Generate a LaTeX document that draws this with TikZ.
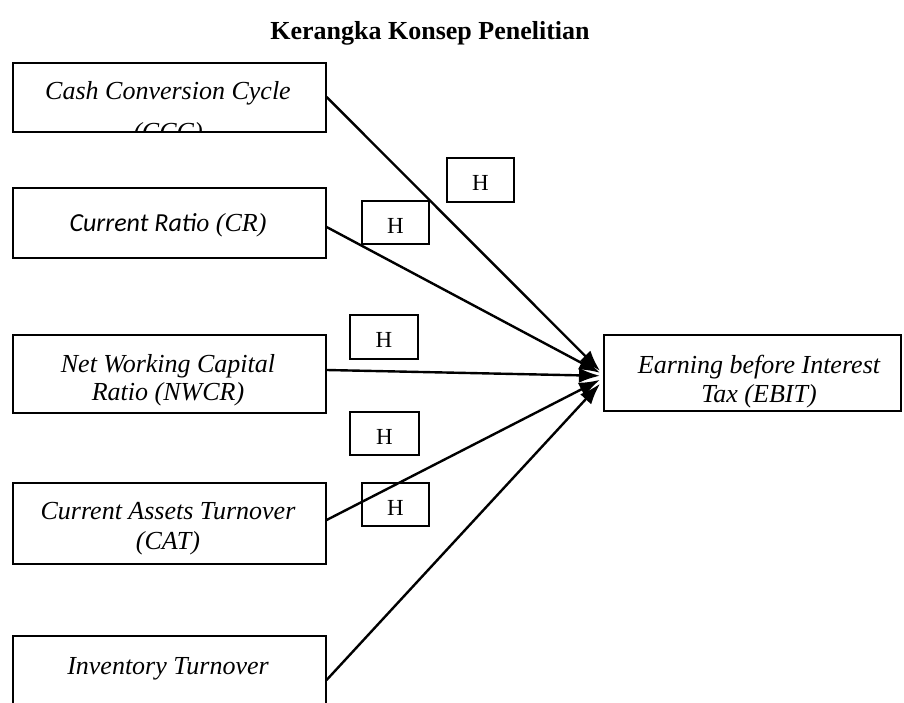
\documentclass[tikz,border=0pt]{standalone}
\usepackage{fontspec}
\setmainfont{Liberation Serif}
\newfontfamily\carlitofont{Carlito}
\usetikzlibrary{arrows.meta}
\begin{document}
\begin{tikzpicture}[x=1pt,y=-1pt,
  box/.style={draw, line width=1.6pt, rectangle, inner sep=0pt, anchor=north west},
  hbox/.style={draw, line width=1.6pt, rectangle, inner sep=0pt, anchor=north west, minimum width=67pt, minimum height=44pt, text depth=0pt, font=\fontsize{23}{24}\selectfont},
  hlbl/.style={anchor=base, inner sep=0pt, font=\fontsize{23}{24}\selectfont},
  lbl/.style={anchor=base, inner sep=0pt, font=\fontsize{26}{30}\selectfont\itshape},
  conn/.style={line width=2.4pt, -{Latex[length=21pt,width=15pt]}}]
\clip (0,0) rectangle (904,703);
\fill[white] (0,0) rectangle (904,703);
% title
\node[anchor=base, inner sep=0pt, font=\fontsize{26}{30}\selectfont\bfseries] (title) at (430,40) {Kerangka Konsep Penelitian};
% boxes
\node[box, minimum width=313pt, minimum height=69pt] (ccc) at (12,62) {};
\node[box, minimum width=313pt, minimum height=70pt] (cr) at (12,187) {};
\node[box, minimum width=313pt, minimum height=78pt] (nwcr) at (12,334) {};
\node[box, minimum width=313pt, minimum height=81pt] (cat) at (12,482) {};
\node[box, minimum width=313pt, minimum height=90pt] (inv) at (12,635) {};
\node[box, minimum width=297pt, minimum height=76pt] (ebit) at (603,334) {};
% texts
\begin{scope}
\clip (ccc.south west) rectangle (ccc.north east);
\node[lbl] (ccc1) at (168,100) {Cash Conversion Cycle};
\node[lbl] (ccc2) at (168,141) {(CCC)};
\end{scope}
\node[lbl] (cr1) at (168,232) {{\carlitofont\itshape Current Rati}o (CR)};
\node[lbl] (nw1) at (168,372) {Net Working Capital};
\node[lbl] (nw2) at (168,400) {Ratio (NWCR)};
\node[lbl] (cat1) at (168,519) {Current Assets Turnover};
\node[lbl] (cat2) at (168,549) {(CAT)};
\node[lbl] (inv1) at (168,674) {Inventory Turnover};
\node[lbl] (eb1) at (759,373) {Earning before Interest};
\node[lbl] (eb2) at (759,402) {Tax (EBIT)};
% H boxes
\node[box, minimum width=67pt, minimum height=44pt] (h1) at (446,157) {};
\node[box, minimum width=67pt, minimum height=43pt] (h2) at (361,200) {};
\node[box, minimum width=68pt, minimum height=44pt] (h3) at (349,314) {};
\node[box, minimum width=69pt, minimum height=43pt] (h4) at (349,411) {};
\node[box, minimum width=67pt, minimum height=43pt] (h5) at (361,482) {};
\node[hlbl] (t1) at ([yshift=-11pt]h1.center) {H};
\node[hlbl] (t2) at ([yshift=-11pt]h2.center) {H};
\node[hlbl] (t3) at ([yshift=-11pt]h3.center) {H};
\node[hlbl] (t4) at ([yshift=-11pt]h4.center) {H};
\node[hlbl] (t5) at ([yshift=-11pt]h5.center) {H};
% arrows
\draw[conn] ([yshift=-35pt]ccc.north east) -- ([xshift=-3pt,yshift=2pt]ebit.west);
\draw[conn] ([yshift=-40pt]cr.north east) -- ([xshift=-3pt]ebit.west);
\draw[conn] ([yshift=-36pt]nwcr.north east) -- ([xshift=-3pt,yshift=-3pt]ebit.west);
\draw[conn] ([yshift=-38pt]cat.north east) -- ([xshift=-3pt,yshift=-7pt]ebit.west);
\draw[conn] ([yshift=-45pt]inv.north east) -- ([xshift=-3pt,yshift=-11pt]ebit.west);
\end{tikzpicture}
\end{document}
